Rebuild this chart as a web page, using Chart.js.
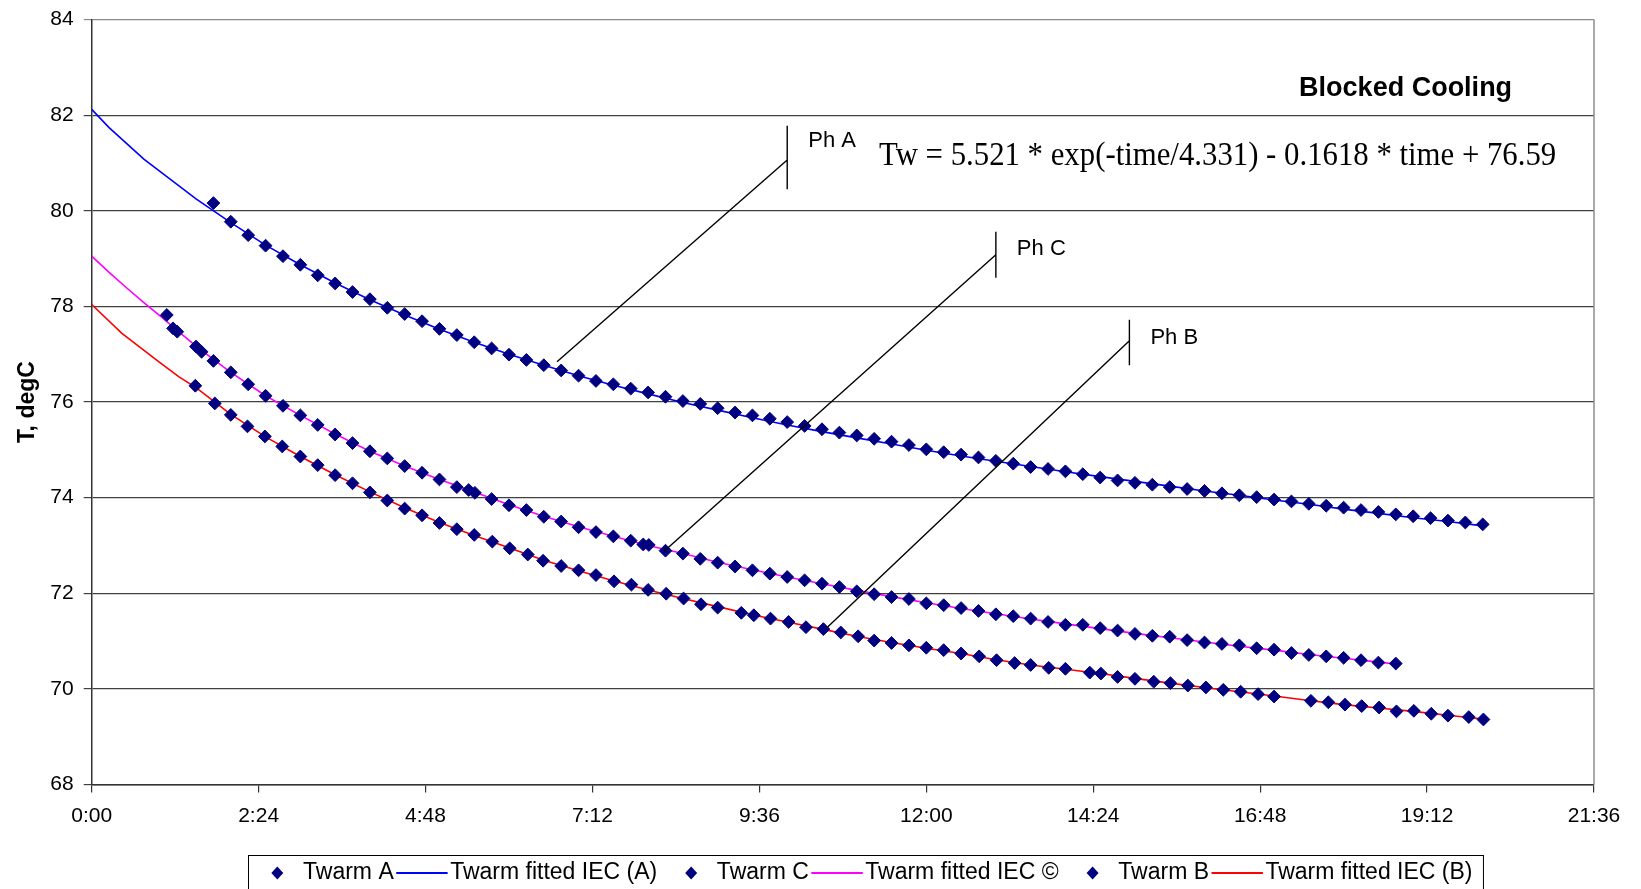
<!DOCTYPE html>
<html>
<head>
<meta charset="utf-8">
<script src="https://cdn.jsdelivr.net/npm/chart.js@4.4.1/dist/chart.umd.min.js"></script>
<style>
html,body{margin:0;padding:0;background:#fff;overflow:hidden}
canvas{display:block}
</style>
</head>
<body>
<canvas id="chart" width="1641" height="889" style="width:1641px;height:889px"></canvas>
<script>
// x is time in hours, axis labelled h:mm every 2.4 h
const tickHours = [0, 2.4, 4.8, 7.2, 9.6, 12, 14.4, 16.8, 19.2, 21.6];
const tickLabels = ['0:00', '2:24', '4:48', '7:12', '9:36', '12:00', '14:24', '16:48', '19:12', '21:36'];

// Twarm A (measured)
const aTime = [1.75,2,2.25,2.5,2.75,3,3.25,3.5,3.75,4,4.25,4.5,4.75,5,5.25,5.5,5.75,6,6.25,6.5,6.75,7,7.25,7.5,7.75,8,8.25,8.5,8.75,9,9.25,9.5,9.75,10,10.25,10.5,10.75,11,11.25,11.5,11.75,12,12.25,12.5,12.75,13,13.25,13.5,13.75,14,14.25,14.5,14.75,15,15.25,15.5,15.75,16,16.25,16.5,16.75,17,17.25,17.5,17.75,18,18.25,18.5,18.75,19,19.25,19.5,19.75,20];
const aTemp = [80.16,79.77,79.49,79.27,79.05,78.87,78.65,78.48,78.30,78.15,77.97,77.84,77.69,77.53,77.40,77.25,77.12,76.99,76.88,76.77,76.66,76.55,76.44,76.37,76.28,76.20,76.11,76.02,75.96,75.87,75.78,75.72,75.65,75.58,75.50,75.43,75.36,75.30,75.23,75.17,75.10,75.01,74.95,74.90,74.84,74.77,74.71,74.64,74.60,74.55,74.49,74.42,74.36,74.31,74.27,74.22,74.18,74.14,74.09,74.05,74.01,73.96,73.92,73.87,73.83,73.79,73.74,73.70,73.65,73.61,73.57,73.52,73.48,73.44];

// Twarm fitted IEC (A)
const aFitTime = [0,0.25,0.75,1.5,2,2.5,3,3.5,4,4.5,5,5.5,6,6.5,7,7.5,8,8.5,9,9.5,10,10.5,11,11.5,12,12.5,13,13.5,14,14.5,15,15.5,16,16.5,17,17.5,18,18.5,19,19.5,20];
const aFitTemp = [82.12,81.74,81.08,80.25,79.75,79.28,78.87,78.49,78.14,77.82,77.52,77.25,77.00,76.77,76.55,76.35,76.17,75.99,75.83,75.67,75.52,75.38,75.25,75.12,74.99,74.87,74.76,74.65,74.54,74.44,74.34,74.24,74.14,74.05,73.95,73.86,73.76,73.67,73.58,73.50,73.41];

// Twarm C (measured)
const cTime = [1.08,1.17,1.23,1.5,1.58,1.75,2,2.25,2.5,2.75,3,3.25,3.5,3.75,4,4.25,4.5,4.75,5,5.25,5.42,5.51,5.75,6,6.25,6.5,6.75,7,7.25,7.5,7.75,7.93,8.01,8.25,8.5,8.75,9,9.25,9.5,9.75,10,10.25,10.5,10.75,11,11.25,11.5,11.75,12,12.25,12.5,12.75,13,13.25,13.5,13.75,14,14.25,14.5,14.75,15,15.25,15.5,15.75,16,16.25,16.5,16.75,17,17.25,17.5,17.75,18,18.25,18.5,18.75];
const cTemp = [77.82,77.54,77.47,77.16,77.05,76.86,76.62,76.37,76.13,75.92,75.72,75.52,75.32,75.14,74.97,74.82,74.66,74.52,74.38,74.22,74.16,74.10,73.97,73.84,73.74,73.60,73.50,73.38,73.28,73.19,73.10,73.02,73.01,72.89,72.83,72.72,72.64,72.56,72.48,72.41,72.34,72.27,72.20,72.13,72.04,71.98,71.92,71.88,71.79,71.75,71.69,71.63,71.56,71.52,71.47,71.40,71.34,71.34,71.27,71.22,71.15,71.11,71.09,71.02,70.97,70.94,70.91,70.85,70.82,70.75,70.71,70.68,70.65,70.60,70.55,70.53];

// Twarm fitted IEC (C)
const cFitTime = [0,0.25,0.5,0.75,1,1.25,1.5,1.75,2,2.5,3,3.5,4,4.5,5,5.5,6,6.5,7,7.5,8,8.5,9,9.5,10,10.5,11,11.5,12,12.5,13,13.5,14,14.5,15,15.5,16,16.5,17,17.5,18,18.5,18.75];
const cFitTemp = [79.05,78.71,78.39,78.08,77.78,77.47,77.17,76.89,76.62,76.13,75.72,75.33,74.97,74.66,74.38,74.12,73.85,73.61,73.39,73.19,73.00,72.83,72.65,72.49,72.34,72.20,72.06,71.93,71.80,71.68,71.57,71.46,71.36,71.26,71.16,71.07,70.98,70.89,70.81,70.72,70.64,70.56,70.52];

// Twarm B (measured)
const bTime = [1.49,1.77,2,2.24,2.49,2.74,3,3.25,3.5,3.75,4,4.25,4.5,4.75,5,5.25,5.5,5.76,6.01,6.27,6.49,6.75,7,7.25,7.51,7.76,8,8.26,8.51,8.76,9,9.34,9.52,9.76,10.02,10.27,10.52,10.77,11.02,11.25,11.5,11.75,12,12.25,12.5,12.76,13.01,13.27,13.5,13.76,14,14.35,14.51,14.75,15,15.27,15.51,15.76,16.02,16.27,16.52,16.77,17,17.53,17.78,18.02,18.26,18.51,18.76,19.01,19.26,19.5,19.8,20.01];
const bTemp = [76.34,75.97,75.73,75.49,75.28,75.07,74.86,74.68,74.47,74.30,74.11,73.94,73.77,73.63,73.47,73.34,73.22,73.08,72.94,72.81,72.68,72.57,72.48,72.38,72.25,72.18,72.07,71.99,71.89,71.77,71.70,71.59,71.54,71.47,71.40,71.29,71.25,71.18,71.10,71.01,70.96,70.91,70.86,70.81,70.74,70.68,70.60,70.54,70.50,70.44,70.42,70.34,70.32,70.25,70.21,70.15,70.12,70.07,70.03,69.98,69.94,69.89,69.84,69.75,69.72,69.67,69.64,69.61,69.53,69.54,69.48,69.44,69.41,69.36];

// Twarm fitted IEC (B)
const bFitTime = [0,0.43,0.92,1.25,1.5,2,2.5,3,3.5,4,4.5,5,5.5,6,6.5,7,7.5,8,8.5,9,9.5,10,10.5,11,11.5,12,12.5,13,13.5,14,14.5,15,15.5,16,16.5,17,17.53,18,18.5,19,19.5,20];
const bFitTemp = [78.04,77.44,76.89,76.53,76.30,75.74,75.27,74.86,74.48,74.12,73.79,73.48,73.21,72.95,72.69,72.47,72.26,72.07,71.89,71.72,71.55,71.40,71.25,71.10,70.97,70.85,70.74,70.61,70.50,70.41,70.32,70.22,70.12,70.03,69.94,69.85,69.75,69.67,69.60,69.53,69.45,69.37];

// callouts (time h, temperature degC)
const calloutLabels = ['Ph A', 'Ph C', 'Ph B'];
const calloutBarTime = [10.0, 13.0, 14.92];
const calloutBarTop = [81.78, 79.56, 77.72];
const calloutBarBottom = [80.45, 78.60, 76.77];
const calloutJoinTemp = [81.06, 79.08, 77.28];
const calloutEndTime = [6.69, 8.23, 10.57];
const calloutEndTemp = [76.84, 72.88, 71.28];
const calloutLabelTemp = [81.45, 79.20, 77.34];

const equationText = 'Tw = 5.521 * exp(-time/4.331) - 0.1618 * time + 76.59';
const equationPos = [11.32, 81.15];
const titleText = 'Blocked Cooling';
const titlePos = [17.36, 82.56];

const pts = (t, v) => t.map((x, i) => ({x: x, y: v[i]}));
const SANS = '"Liberation Sans", Arial, sans-serif';
const MARK = '#000080';

Chart.defaults.font.family = SANS;
Chart.defaults.color = '#000';

function markerSet(label, t, v) {
  return {label, data: pts(t, v), showLine: false, order: 0,
    pointStyle: 'rectRot', pointRadius: 6.4, pointHoverRadius: 6.4,
    pointBackgroundColor: MARK, pointBorderColor: MARK, pointBorderWidth: 1};
}
function fitSet(label, t, v, color) {
  return {label, data: pts(t, v), showLine: true, order: 1, pointRadius: 0,
    borderColor: color, borderWidth: 1.6, tension: 0, fill: false};
}

const extras = {
  id: 'extras',
  afterDraw(chart) {
    const ctx = chart.ctx, xs = chart.scales.x, ys = chart.scales.y, a = chart.chartArea;
    const px = t => xs.getPixelForValue(t), py = v => ys.getPixelForValue(v);
    ctx.save();
    // right border
    ctx.strokeStyle = '#8c8c8c'; ctx.lineWidth = 1.5;
    ctx.beginPath(); ctx.moveTo(a.right, a.top); ctx.lineTo(a.right, a.bottom); ctx.stroke();

    // callouts
    ctx.strokeStyle = '#000'; ctx.lineWidth = 1.4;
    ctx.font = '22px ' + SANS; ctx.fillStyle = '#000';
    ctx.textAlign = 'left'; ctx.textBaseline = 'middle';
    calloutLabels.forEach((lab, i) => {
      const bx = px(calloutBarTime[i]);
      ctx.beginPath();
      ctx.moveTo(bx, py(calloutBarTop[i])); ctx.lineTo(bx, py(calloutBarBottom[i]));
      ctx.moveTo(bx, py(calloutJoinTemp[i])); ctx.lineTo(px(calloutEndTime[i]), py(calloutEndTemp[i]));
      ctx.stroke();
      ctx.fillText(lab, bx + 21, py(calloutLabelTemp[i]));
    });

    // equation, slightly tall like the original
    ctx.save();
    ctx.translate(px(equationPos[0]), py(equationPos[1]));
    ctx.scale(0.993, 1.12);
    ctx.font = '31px "Liberation Serif", "Times New Roman", serif';
    ctx.fillText(equationText, 0, 0);
    ctx.restore();
    ctx.font = 'bold 27px ' + SANS;
    ctx.fillText(titleText, px(titlePos[0]), py(titlePos[1]));

    // legend
    const top = 855, cy = 873;
    let x = 248 + 29.3;
    ctx.font = '23px ' + SANS;
    chart.data.datasets.forEach((ds, i) => {
      if (!ds.showLine) {
        if (i > 0) x += 34;
        ctx.fillStyle = MARK;
        ctx.beginPath();
        ctx.moveTo(x - 6, cy); ctx.lineTo(x, cy - 6.5); ctx.lineTo(x + 6, cy); ctx.lineTo(x, cy + 6.5);
        ctx.closePath(); ctx.fill();
        x += 25.7;
      } else {
        x += 2.5;
        ctx.strokeStyle = ds.borderColor; ctx.lineWidth = 2;
        ctx.beginPath(); ctx.moveTo(x, cy); ctx.lineTo(x + 51.4, cy); ctx.stroke();
        x += 51.4 + 2.5;
      }
      ctx.fillStyle = '#000';
      ctx.fillText(ds.label, x, cy);
      x += ctx.measureText(ds.label).width;
    });
    ctx.strokeStyle = '#000'; ctx.lineWidth = 1;
    ctx.strokeRect(248.5, top + 0.5, x + 11 - 248.5, 60);
    ctx.restore();
  }
};

new Chart(document.getElementById('chart'), {
  type: 'scatter',
  data: {
    datasets: [
      markerSet('Twarm A', aTime, aTemp),
      fitSet('Twarm fitted IEC (A)', aFitTime, aFitTemp, '#0000ff'),
      markerSet('Twarm C', cTime, cTemp),
      fitSet('Twarm fitted IEC \u00a9', cFitTime, cFitTemp, '#ff00ff'),
      markerSet('Twarm B', bTime, bTemp),
      fitSet('Twarm fitted IEC (B)', bFitTime, bFitTemp, '#ff0000')
    ]
  },
  options: {
    responsive: false,
    animation: false,
    devicePixelRatio: 1,
    layout: {padding: {top: 19.5, right: 47, left: 0, bottom: 0}},
    plugins: {legend: {display: false}, tooltip: {enabled: false}},
    scales: {
      x: {
        type: 'linear', position: 'bottom', min: 0, max: 21.6,
        afterBuildTicks: s => { s.ticks = tickHours.map(v => ({value: v})); },
        afterFit: s => { s.height = 104.5; },
        ticks: {callback: (v, i) => tickLabels[i], font: {size: 21}, color: '#000',
          padding: 11, maxRotation: 0, autoSkip: false},
        grid: {drawOnChartArea: false, drawTicks: true, tickLength: 8, color: '#333', lineWidth: 1.2},
        border: {color: '#333', width: 1.5}
      },
      y: {
        min: 68, max: 84,
        afterFit: s => { s.width = 91.7; },
        ticks: {stepSize: 2, font: {size: 21, lineHeight: 0.8}, color: '#000', padding: 10},
        grid: {tickLength: 8, lineWidth: 1.2,
          color: c => (c.tick && c.tick.value === 84) ? '#8c8c8c' : '#404040'},
        border: {color: '#333', width: 1.5},
        title: {display: true, text: 'T, degC', font: {size: 23, weight: 'bold'}, color: '#000',
          padding: {top: 14, bottom: 0}}
      }
    }
  },
  plugins: [extras]
});
</script>
</body>
</html>
